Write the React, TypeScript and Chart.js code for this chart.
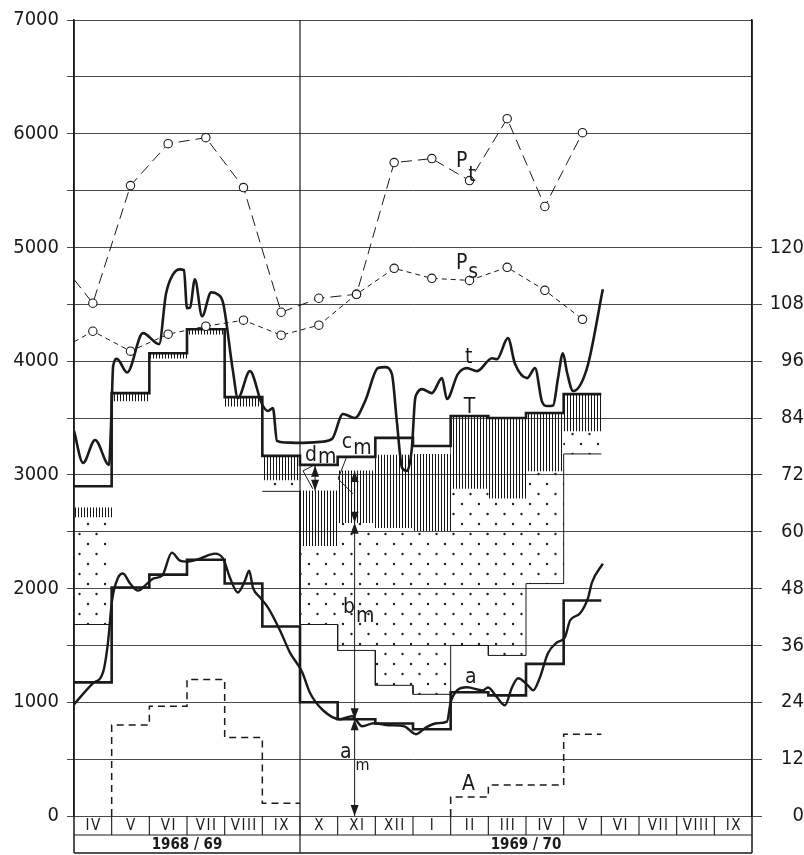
import React, { useEffect, useRef } from 'react';
import { Chart, registerables } from 'chart.js';

Chart.register(...registerables);

// ---------- categories / ticks ----------
const MONTHS = ['IV', 'V', 'VI', 'VII', 'VIII', 'IX', 'X', 'XI', 'XII', 'I', 'II', 'III', 'IV', 'V', 'VI', 'VII', 'VIII', 'IX'];
const SEASONS = ['1968 / 69', '1969 / 70'];
const SEASON_START = [0, 6];
const LEFT_MAX = 7000;
const LEFT_STEP = 500;
const LEFT_LABEL_STEP = 1000;
const RIGHT_MAX = 168;
const RIGHT_STEP = 12;
const RIGHT_LABEL_MAX = 120;

// ---------- monthly step series (null = no value) ----------
const T_STEP = [2900, 3719, 4070, 4280, 3684, 3167, 3088, 3158, 3325, 3254, 3517, 3500, 3544, 3710, null, null, null, null];
const A_STEP = [1175, 2009, 2123, 2254, 2044, 1667, 1000, 851, 813, 763, 1088, 1061, 1338, 1895, null, null, null, null];
const A_TOTAL = [null, 800, 965, 1200, 690, 112, null, null, null, null, 167, 272, 272, 719, null, null, null, null];
const HATCH_TOP = [2710, 3719, 4070, 4280, 3684, 3167, 2860, 3035, 3175, 3180, 3517, 3500, 3544, 3710, null, null, null, null];
const HATCH_BOTTOM = [2630, 3650, 4026, 4237, 3605, 2956, 2377, 2579, 2535, 2509, 2880, 2795, 3035, 3386, null, null, null, null];
const DOT_TOP = [2630, null, null, null, null, 2956, 2377, 2579, 2535, 2509, 2880, 2795, 3035, 3370, null, null, null, null];
const DOT_BOTTOM = [1684, null, null, null, null, 2855, 1684, 1456, 1149, 1070, 1500, 1412, 2044, 3184, null, null, null, null];

// ---------- monthly point series (month centres), with value where line enters at chart edge ----------
const PT_START = 4719;
const PT = [4509, 5544, 5912, 5965, 5526, 4430, 4553, 4588, 5746, 5781, 5588, 6132, 5360, 6009];
const PS_START = 4170;
const PS = [4263, 4088, 4237, 4307, 4360, 4228, 4316, 4588, 4816, 4728, 4710, 4825, 4623, 4368];

// ---------- continuous curves (month position, value) ----------
const T_CURVE_M = [0, 0.24, 0.56, 0.93, 0.99, 1.04, 1.14, 1.41, 1.83, 2.26, 2.44, 2.63, 2.81, 2.92, 3.0, 3.08, 3.21, 3.40, 3.64, 3.80, 3.96, 4.22, 4.35, 4.67, 4.99, 5.15, 5.28, 5.39, 5.60, 5.95, 6.53, 6.85, 7.14, 7.46, 7.73, 8.07, 8.26, 8.44, 8.57, 8.71, 8.84, 8.97, 9.05, 9.11, 9.24, 9.50, 9.77, 9.90, 10.19, 10.43, 10.70, 11.10, 11.23, 11.52, 11.71, 12.03, 12.24, 12.42, 12.56, 12.72, 12.85, 12.98, 13.09, 13.25, 13.62, 14.04];
const T_CURVE_V = [3386, 3105, 3307, 3088, 3500, 3960, 4020, 3900, 4246, 4149, 4588, 4763, 4807, 4800, 4465, 4470, 4719, 4395, 4605, 4590, 4509, 3912, 3675, 3912, 3623, 3561, 3587, 3298, 3285, 3281, 3290, 3316, 3535, 3500, 3649, 3939, 3947, 3886, 3474, 3061, 3035, 3237, 3650, 3719, 3754, 3719, 3851, 3667, 3886, 3939, 3912, 4026, 4017, 4202, 3974, 3851, 3939, 3649, 3605, 3610, 3851, 4070, 3900, 3737, 3939, 4632];
const A_CURVE_M = [0, 0.5, 0.77, 0.9, 1.01, 1.17, 1.3, 1.49, 1.7, 1.94, 2.1, 2.34, 2.6, 2.81, 3.0, 3.34, 3.74, 3.96, 4.14, 4.35, 4.54, 4.65, 4.75, 4.94, 5.15, 5.47, 5.73, 6.05, 6.27, 6.61, 7.06, 7.38, 7.65, 7.96, 8.36, 8.76, 9.08, 9.35, 9.64, 9.9, 10.0, 10.17, 10.43, 10.86, 10.99, 11.23, 11.44, 11.63, 11.79, 12.05, 12.19, 12.37, 12.58, 12.82, 13.03, 13.17, 13.43, 13.65, 13.75, 14.04];
const A_CURVE_V = [982, 1167, 1263, 1518, 1895, 2096, 2132, 2044, 1982, 2044, 2088, 2114, 2316, 2246, 2237, 2263, 2307, 2263, 2096, 1965, 2070, 2158, 2009, 1921, 1833, 1632, 1439, 1270, 1079, 930, 851, 877, 789, 816, 798, 789, 719, 780, 816, 830, 1000, 1105, 1132, 1105, 1130, 1044, 974, 1132, 1211, 1149, 1105, 1219, 1430, 1526, 1570, 1719, 1781, 1921, 2053, 2219];

// ---------- annotations (in data units) ----------
const TEXT_LABELS = [
  { text: 'P', sub: 't', m: 10.14, v: 5711, drop: 14, subSize: 21 },
  { text: 'P', sub: 's', m: 10.14, v: 4807, drop: 9, subSize: 21 },
  { text: 't', m: 10.38, v: 3982 },
  { text: 'T', m: 10.35, v: 3544 },
  { text: 'd', sub: 'm', m: 6.13, v: 3123, drop: 2, subSize: 21 },
  { text: 'c', sub: 'm', m: 7.11, v: 3237, drop: 6, subSize: 21 },
  { text: 'b', sub: 'm', m: 7.14, v: 1781, drop: 9, subSize: 21 },
  { text: 'a', m: 10.38, v: 1167 },
  { text: 'a', sub: 'm', m: 7.06, v: 509, drop: 12, subSize: 16, gap: 4 },
  { text: 'A', m: 10.3, v: 228 },
];
const MEASURE_M = 7.45;
const MEASURE_LINE = [0, 3035];
const MEASURE_TIPS = [
  { v: 0, dir: 'down' }, { v: 851, dir: 'down' }, { v: 851, dir: 'up' },
  { v: 2579, dir: 'up' }, { v: 2579, dir: 'down' }, { v: 3035, dir: 'up' },
];
const DM_M = 6.4;
const DM_RANGE = [2860, 3079];
const LEADERS = [
  [[6.08, 3035], [6.34, 3079]],
  [[6.08, 3035], [6.34, 2877]],
  [[7.25, 3167], [7.01, 2965], [7.41, 2833]],
];

const FONT = '"DejaVu Sans Condensed", "DejaVu Sans", sans-serif';
const INK = '#1a1a1a';

function stepPoints(vals: (number | null)[], riseFromZero = false) {
  const pts: { x: number; y: number | null }[] = [];
  vals.forEach((v, i) => {
    if (v == null) {
      if (pts.length && pts[pts.length - 1].y != null) pts.push({ x: i, y: null });
      return;
    }
    const prev = i > 0 ? vals[i - 1] : null;
    if (riseFromZero && prev == null) pts.push({ x: i, y: 0 });
    pts.push({ x: i, y: v }, { x: i + 1, y: v });
  });
  return pts;
}

function barPoints(tops: (number | null)[], bots: (number | null)[]) {
  const out: { x: number; y: [number, number] }[] = [];
  tops.forEach((t, i) => {
    const b = bots[i];
    if (t != null && b != null) out.push({ x: i + 0.5, y: [b, t] });
  });
  return out;
}

function curvePoints(ms: number[], vs: number[]) {
  return ms.map((m, i) => ({ x: m, y: vs[i] }));
}

function monthlyPoints(start: number, vals: number[]) {
  return [{ x: 0, y: start }, ...vals.map((v, i) => ({ x: i + 0.5, y: v }))];
}

function makeHatch(ctx: CanvasRenderingContext2D) {
  const c = document.createElement('canvas');
  c.width = 3; c.height = 4;
  const g = c.getContext('2d')!;
  g.fillStyle = '#151515';
  g.fillRect(0, 0, 1, 4);
  return ctx.createPattern(c, 'repeat')!;
}

function makeDots(ctx: CanvasRenderingContext2D) {
  const c = document.createElement('canvas');
  c.width = 17; c.height = 20;
  const g = c.getContext('2d')!;
  g.fillStyle = '#202020';
  g.beginPath(); g.arc(3, 4, 1.2, 0, Math.PI * 2); g.fill();
  g.beginPath(); g.arc(11.5, 14, 1.2, 0, Math.PI * 2); g.fill();
  return ctx.createPattern(c, 'repeat')!;
}

const decorPlugin = {
  id: 'decor',
  afterDatasetsDraw(chart: any) {
    const { ctx, chartArea: ca, scales } = chart;
    const X = (m: number) => scales.x.getPixelForValue(m);
    const Y = (v: number) => scales.y.getPixelForValue(v);
    const row1 = ca.bottom + 19;
    const row2 = ca.bottom + 37;
    const n = MONTHS.length;
    ctx.save();
    ctx.strokeStyle = INK;
    ctx.fillStyle = INK;
    const seg = (x1: number, y1: number, x2: number, y2: number, w: number) => {
      ctx.lineWidth = w;
      ctx.beginPath(); ctx.moveTo(x1, y1); ctx.lineTo(x2, y2); ctx.stroke();
    };
    // frame and season divider
    seg(X(0), ca.top, X(0), row2, 1.5);
    seg(X(n), ca.top, X(n), row2, 1.5);
    SEASON_START.slice(1).forEach((s) => seg(X(s), ca.top, X(s), row2, 1.2));
    // label rows
    seg(X(0), row1, X(n), row1, 1.2);
    seg(X(0), row2, X(n), row2, 1.5);
    for (let i = 1; i < n; i++) seg(X(i), ca.bottom, X(i), row1, 1.1);
    ctx.textAlign = 'center';
    ctx.textBaseline = 'middle';
    ctx.font = `15px ${FONT}`;
    (ctx as any).letterSpacing = '1.5px';
    MONTHS.forEach((m, i) => ctx.fillText(m, X(i + 0.5) + 0.75, (ca.bottom + row1) / 2 + 1));
    (ctx as any).letterSpacing = '0px';
    ctx.font = `bold 15px ${FONT}`;
    SEASONS.forEach((s, k) => {
      const a = SEASON_START[k];
      const b = k + 1 < SEASON_START.length ? SEASON_START[k + 1] : n;
      ctx.fillText(s, X((a + b) / 2), (row1 + row2) / 2 + 1);
    });

    // measurement lines and arrows
    seg(X(MEASURE_M), Y(MEASURE_LINE[0]), X(MEASURE_M), Y(MEASURE_LINE[1]), 1);
    const tip = (m: number, v: number, dir: string) => {
      const x = X(m), y = Y(v);
      const d = dir === 'up' ? 1 : -1;
      ctx.beginPath();
      ctx.moveTo(x, y);
      ctx.lineTo(x - 4, y + d * 11);
      ctx.lineTo(x + 4, y + d * 11);
      ctx.closePath();
      ctx.fill();
    };
    MEASURE_TIPS.forEach((t) => tip(MEASURE_M, t.v, t.dir));
    seg(X(DM_M), Y(DM_RANGE[0]), X(DM_M), Y(DM_RANGE[1]), 1);
    tip(DM_M, DM_RANGE[1], 'up');
    tip(DM_M, DM_RANGE[0], 'down');
    ctx.lineWidth = 1;
    LEADERS.forEach((pl) => {
      ctx.beginPath();
      pl.forEach(([m, v], i) => (i === 0 ? ctx.moveTo(X(m), Y(v)) : ctx.lineTo(X(m), Y(v))));
      ctx.stroke();
    });

    // text labels
    ctx.textAlign = 'left';
    ctx.textBaseline = 'alphabetic';
    TEXT_LABELS.forEach((l: any) => {
      const x = X(l.m), y = Y(l.v);
      ctx.font = `21px ${FONT}`;
      ctx.fillText(l.text, x, y);
      if (l.sub) {
        const w = ctx.measureText(l.text).width;
        ctx.font = `${l.subSize}px ${FONT}`;
        ctx.fillText(l.sub, x + w + (l.gap || 1), y + l.drop);
      }
    });
    ctx.restore();
  },
};

export default function App() {
  const ref = useRef<HTMLCanvasElement>(null);
  useEffect(() => {
    const canvas = ref.current!;
    const c2d = canvas.getContext('2d')!;
    const hatch = makeHatch(c2d);
    const dots = makeDots(c2d);
    const barCommon = { type: 'bar', grouped: false, barPercentage: 1, categoryPercentage: 1, borderWidth: 0 };
    const lineCommon = { type: 'line', pointRadius: 0, tension: 0, fill: false, borderColor: INK, spanGaps: false };
    const chart = new Chart(canvas, {
      type: 'line',
      data: {
        datasets: [
          { ...barCommon, label: 'b', data: barPoints(DOT_TOP, DOT_BOTTOM), backgroundColor: dots, order: 30 },
          { ...barCommon, label: 'c', data: barPoints(HATCH_TOP, HATCH_BOTTOM), backgroundColor: hatch, order: 29 },
          { ...lineCommon, label: 'b bottom', data: stepPoints(DOT_BOTTOM), borderWidth: 1, order: 20 },
          { ...lineCommon, label: 'A', data: stepPoints(A_TOTAL, true), borderWidth: 1.5, borderDash: [7, 5], order: 6 },
          { ...lineCommon, label: 'T', data: stepPoints(T_STEP), borderWidth: 2.6, order: 4 },
          { ...lineCommon, label: 'a (monthly)', data: stepPoints(A_STEP), borderWidth: 2.6, order: 4 },
          { ...lineCommon, label: 't', data: curvePoints(T_CURVE_M, T_CURVE_V), borderWidth: 2.6, cubicInterpolationMode: 'monotone', order: 3 },
          { ...lineCommon, label: 'a', data: curvePoints(A_CURVE_M, A_CURVE_V), borderWidth: 2.4, cubicInterpolationMode: 'monotone', order: 3 },
          {
            ...lineCommon, label: 'Pt', data: monthlyPoints(PT_START, PT), borderWidth: 1, borderDash: [11, 6],
            pointRadius: (c: any) => (c.dataIndex === 0 ? 0 : 4.2), pointBackgroundColor: '#fff',
            pointBorderColor: INK, pointBorderWidth: 1.1, order: 1,
          },
          {
            ...lineCommon, label: 'Ps', data: monthlyPoints(PS_START, PS), borderWidth: 1, borderDash: [5, 4],
            pointRadius: (c: any) => (c.dataIndex === 0 ? 0 : 4.2), pointBackgroundColor: '#fff',
            pointBorderColor: INK, pointBorderWidth: 1.1, order: 1,
          },
        ] as any,
      },
      options: {
        responsive: false,
        animation: false,
        devicePixelRatio: 1,
        events: [],
        layout: { padding: { left: 0, right: 0, top: 18, bottom: 39 } },
        plugins: { legend: { display: false }, tooltip: { enabled: false } },
        scales: {
          x: {
            type: 'linear', min: 0, max: MONTHS.length, display: false, offset: false,
            grid: { offset: false }, ticks: { stepSize: 1 },
          },
          y: {
            type: 'linear', position: 'left', min: 0, max: LEFT_MAX,
            afterFit: (s: any) => { s.width = 74; },
            ticks: {
              stepSize: LEFT_STEP, autoSkip: false, padding: 8, color: INK,
              font: { family: FONT, size: 20 },
              callback: (v: any) => (v % LEFT_LABEL_STEP === 0 ? String(v) : ''),
            },
            grid: { color: '#4a4a4a', lineWidth: 1, tickLength: 7 },
            border: { display: true, color: INK, width: 1.5 },
          },
          y1: {
            type: 'linear', position: 'right', min: 0, max: RIGHT_MAX,
            afterFit: (s: any) => { s.width = 52; },
            ticks: {
              stepSize: RIGHT_STEP, autoSkip: false, padding: 7, color: INK, crossAlign: 'far',
              font: { family: FONT, size: 20 },
              callback: (v: any) => (v <= RIGHT_LABEL_MAX ? String(v) : ''),
            },
            grid: {
              drawOnChartArea: false, tickLength: 10, lineWidth: 1,
              color: (c: any) => (c.tick && c.tick.value <= RIGHT_LABEL_MAX ? '#4a4a4a' : 'rgba(0,0,0,0)'),
            },
            border: { display: true, color: INK, width: 1.5 },
          },
        },
      } as any,
      plugins: [decorPlugin],
    });
    return () => chart.destroy();
  }, []);
  return (
    <div style={{ position: 'absolute', left: 0, top: 0, width: 804, height: 855, background: '#fff' }}>
      <canvas ref={ref} width={804} height={855} style={{ display: 'block', width: 804, height: 855 }} />
    </div>
  );
}
